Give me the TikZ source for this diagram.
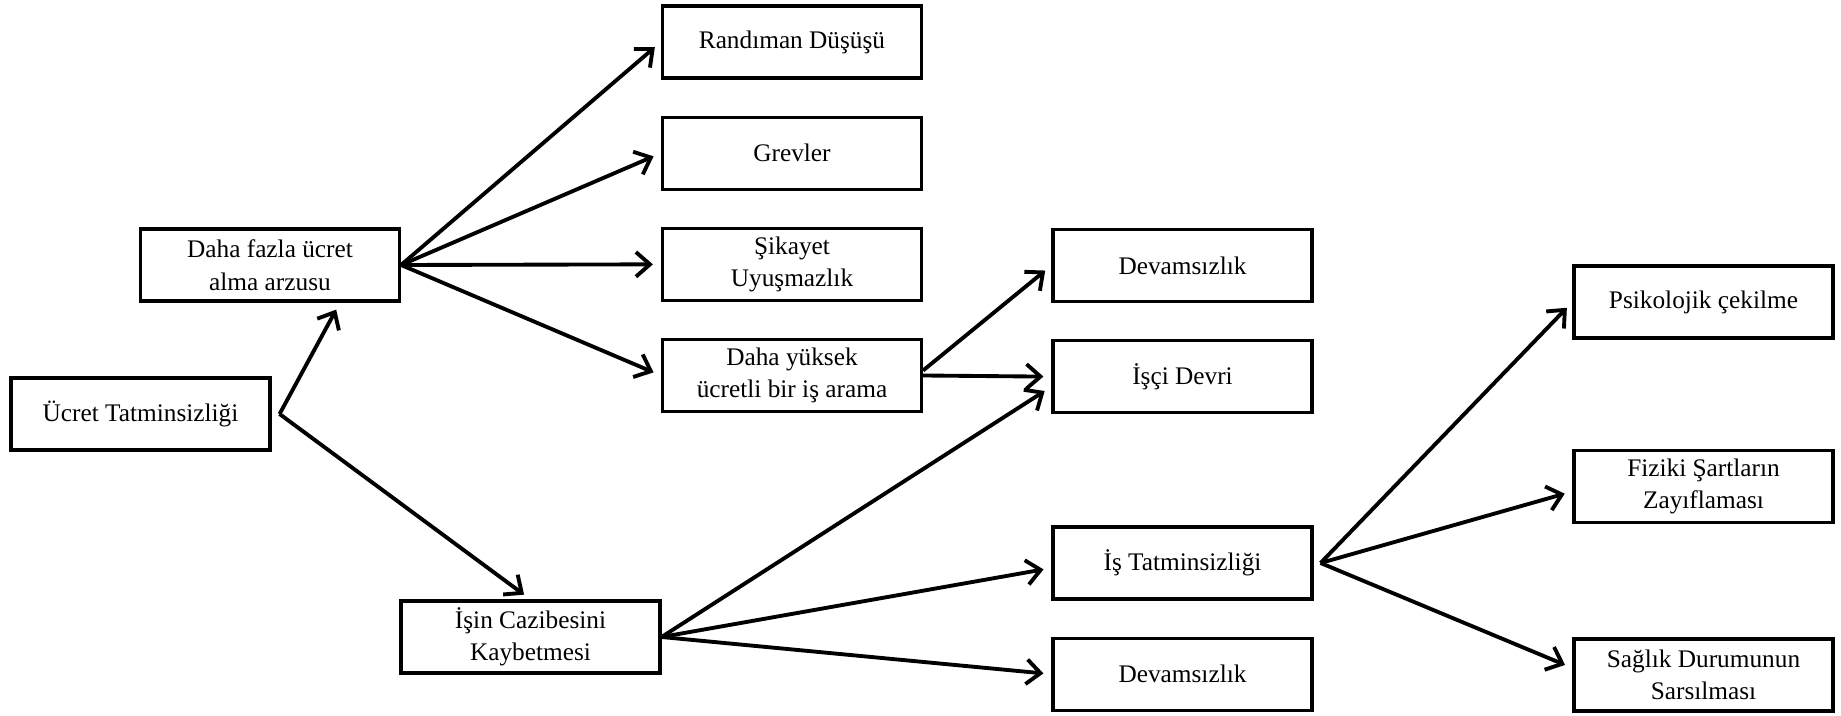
\documentclass[tikz,border=0pt]{standalone}
\usepackage{fontspec}
\setmainfont{Liberation Serif}
\usetikzlibrary{arrows.meta, positioning}

\begin{document}
\begin{tikzpicture}[
    font=\fontsize{14.4}{18.5}\selectfont,
    node distance=0.72cm,
    box/.style={
        draw=black,
        line width=1.8pt,
        align=center,
        minimum width=5.18cm,
        minimum height=1.44cm,
        inner sep=2pt
    },
    arrow/.style={-{Straight Barb[length=8pt,width=14pt]}, line width=2.2pt, shorten >=0.16cm}
]

\useasboundingbox (0,0) rectangle (36.82,-14.32);

% left part
\node[box] (ucret) at (2.81,-8.28) {Ücret Tatminsizliği};
\node[box] (fazla) at (5.40,-5.30) {Daha fazla ücret\\alma arzusu};
\node[box] (isin) at (10.61,-12.74) {İşin Cazibesini\\Kaybetmesi};

% first column of results
\node[box] (randiman) at (15.84,-0.84) {Randıman Düşüşü};
\node[box, below=of randiman] (grevler) {Grevler};
\node[box, below=of grevler] (sikayet) {Şikayet\\Uyuşmazlık};
\node[box, below=of sikayet] (yuksek) {Daha yüksek\\ücretli bir iş arama};

% second column
\node[box] (devam1) at (23.65,-5.31) {Devamsızlık};
\node[box, below=of devam1] (isci) {İşçi Devri};
\node[box] (istatmin) at (23.65,-11.26) {İş Tatminsizliği};
\node[box, below=of istatmin] (devam2) {Devamsızlık};

% third column
\node[box] (psiko) at (34.07,-6.04) {Psikolojik çekilme};
\node[box] (fiziki) at (34.07,-9.73) {Fiziki Şartların\\Zayıflaması};
\node[box] (saglik) at (34.07,-13.50) {Sağlık Durumunun\\Sarsılması};

\coordinate (oUcret) at ([xshift=0.16cm]ucret.east);
\coordinate (oTatmin) at ([xshift=0.14cm]istatmin.east);

\draw[arrow] (oUcret) -- ([xshift=1.4cm]fazla.south);
\draw[arrow] (oUcret) -- (isin.north);

\draw[arrow] (fazla.east) -- (randiman.west);
\draw[arrow] (fazla.east) -- (grevler.west);
\draw[arrow] (fazla.east) -- (sikayet.west);
\draw[arrow] (fazla.east) -- (yuksek.west);

\draw[arrow] ([yshift=0.1cm]yuksek.east) -- (devam1.west);
\draw[arrow] (yuksek.east) -- (isci.west);

\draw[arrow] (isin.east) -- ([yshift=-0.2cm]isci.west);
\draw[arrow] (isin.east) -- ([yshift=-0.1cm]istatmin.west);
\draw[arrow] (isin.east) -- (devam2.west);

\draw[arrow] (oTatmin) -- (psiko.west);
\draw[arrow] (oTatmin) -- ([yshift=-0.1cm]fiziki.west);
\draw[arrow] (oTatmin) -- ([yshift=0.14cm]saglik.west);

\end{tikzpicture}
\end{document}
